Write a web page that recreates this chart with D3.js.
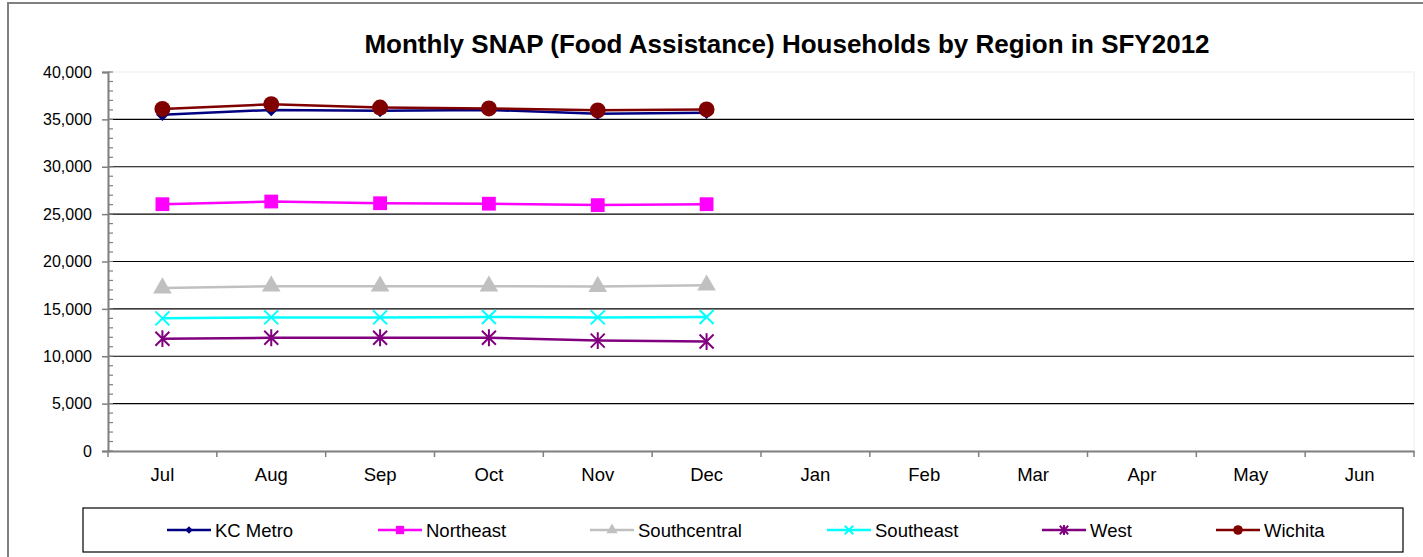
<!DOCTYPE html>
<html>
<head>
<meta charset="utf-8">
<script src="https://cdn.jsdelivr.net/npm/d3@7"></script>
<style>
  body { margin: 0; background: #fff; }
  text { font-family: "Liberation Sans", Arial, sans-serif; }
</style>
</head>
<body>
<svg id="chart"></svg>
<script>
const months = ['Jul', 'Aug', 'Sep', 'Oct', 'Nov', 'Dec', 'Jan', 'Feb', 'Mar', 'Apr', 'May', 'Jun'];
const regions = ['KC Metro', 'Northeast', 'Southcentral', 'Southeast', 'West', 'Wichita'];
const kcMetro = [35500, 36000, 35900, 36000, 35600, 35700];
const northeast = [26050, 26330, 26150, 26100, 25950, 26050];
const southcentral = [17200, 17400, 17400, 17400, 17350, 17500];
const southeast = [14000, 14100, 14100, 14150, 14100, 14150];
const west = [11850, 11950, 11950, 11950, 11650, 11550];
const wichita = [36100, 36600, 36250, 36150, 35950, 36050];
const yTicks = [0, 5000, 10000, 15000, 20000, 25000, 30000, 35000, 40000];

const series = [
  {name: regions[0], values: kcMetro, color: '#000080', symbol: 'diamond', size: 80},
  {name: regions[1], values: northeast, color: '#ff00ff', symbol: d3.symbolSquare, size: 190},
  {name: regions[2], values: southcentral, color: '#c0c0c0', symbol: d3.symbolTriangle, size: 150},
  {name: regions[3], values: southeast, color: '#00ffff', symbol: 'x', size: 7},
  {name: regions[4], values: west, color: '#800080', symbol: 'star', size: 7},
  {name: regions[5], values: wichita, color: '#800000', symbol: d3.symbolCircle, size: 200}
];

const W = 1423, H = 557;
const plot = {left: 108, top: 72, right: 1414, bottom: 451};
const font = '"Liberation Sans", Arial, sans-serif';

const svg = d3.select('#chart').attr('width', W).attr('height', H);

// chart frame
svg.append('rect')
  .attr('x', 8).attr('y', 3)
  .attr('width', W).attr('height', H)
  .attr('fill', 'none').attr('stroke', '#808080').attr('stroke-width', 2);

const x = d3.scaleBand().domain(months).range([plot.left, plot.right]);
const y = d3.scaleLinear().domain([0, 40000]).range([plot.bottom, plot.top]);

// plot border (light)
svg.append('rect')
  .attr('x', plot.left).attr('y', plot.top)
  .attr('width', plot.right - plot.left).attr('height', plot.bottom - plot.top)
  .attr('fill', 'none').attr('stroke', '#eeeeee');

// gridlines
svg.append('g').selectAll('line')
  .data(yTicks.filter(d => d > 0 && d < 40000))
  .join('line')
  .attr('x1', plot.left).attr('x2', plot.right)
  .attr('y1', d => y(d)).attr('y2', d => y(d))
  .attr('stroke', '#000').attr('stroke-width', 1.2);

// y axis
const yAxis = svg.append('g')
  .attr('transform', `translate(${plot.left},0)`)
  .call(d3.axisLeft(y).tickValues(yTicks).tickFormat(d3.format(',')).tickSize(6).tickPadding(10));
yAxis.select('.domain').attr('stroke', '#808080').attr('stroke-width', 2);
yAxis.selectAll('.tick line').attr('stroke', '#808080').attr('stroke-width', 1.5);
yAxis.selectAll('text').attr('font-size', 16).attr('fill', '#000').attr('font-family', font);

// minor ticks inside
svg.append('g').selectAll('line')
  .data(d3.range(0, 40001, 1000))
  .join('line')
  .attr('x1', plot.left).attr('x2', plot.left + 5)
  .attr('y1', d => y(d)).attr('y2', d => y(d))
  .attr('stroke', '#808080').attr('stroke-width', 1.2);

// x axis
const xAxis = svg.append('g')
  .attr('transform', `translate(0,${plot.bottom})`)
  .call(d3.axisBottom(x).tickSize(0).tickPadding(17));
xAxis.select('.domain').attr('stroke', '#808080').attr('stroke-width', 2);
xAxis.selectAll('text').attr('font-size', 18.5).attr('fill', '#000').attr('font-family', font);
svg.append('g').selectAll('line')
  .data(months.concat(['end']))
  .join('line')
  .attr('x1', (d, i) => plot.left + i * x.step())
  .attr('x2', (d, i) => plot.left + i * x.step())
  .attr('y1', plot.bottom).attr('y2', plot.bottom + 6)
  .attr('stroke', '#808080').attr('stroke-width', 1.5);

// title
svg.append('text')
  .attr('x', 787).attr('y', 53)
  .attr('text-anchor', 'middle')
  .attr('font-size', 26).attr('font-weight', 'bold')
  .text('Monthly SNAP (Food Assistance) Households by Region in SFY2012');

function drawMarker(g, s, cx, cy, scale) {
  const k = scale || 1;
  if (s.symbol === 'x' || s.symbol === 'star') {
    const r = s.size * k;
    const p = d3.path();
    p.moveTo(cx - r, cy - r); p.lineTo(cx + r, cy + r);
    p.moveTo(cx - r, cy + r); p.lineTo(cx + r, cy - r);
    if (s.symbol === 'star') { p.moveTo(cx, cy - r * 1.2); p.lineTo(cx, cy + r * 1.2); }
    g.append('path').attr('d', p.toString())
      .attr('stroke', s.color).attr('stroke-width', 2).attr('fill', 'none');
  } else if (s.symbol === 'diamond') {
    g.append('path')
      .attr('d', d3.symbol(d3.symbolSquare, s.size * k * k)())
      .attr('transform', `translate(${cx},${cy}) rotate(45)`)
      .attr('fill', s.color);
  } else {
    g.append('path')
      .attr('d', d3.symbol(s.symbol, s.size * k * k)())
      .attr('transform', `translate(${cx},${cy})`)
      .attr('fill', s.color);
  }
}

const line = d3.line()
  .x((d, i) => x(months[i]) + x.bandwidth() / 2)
  .y(d => y(d));

series.forEach(s => {
  const g = svg.append('g');
  g.append('path').datum(s.values)
    .attr('d', line)
    .attr('fill', 'none').attr('stroke', s.color).attr('stroke-width', 2.5);
  s.values.forEach((v, i) => {
    drawMarker(g, s, x(months[i]) + x.bandwidth() / 2, y(v));
  });
});

// legend
svg.append('rect')
  .attr('x', 83).attr('y', 508).attr('width', 1320).attr('height', 44)
  .attr('fill', '#fff').attr('stroke', '#000').attr('stroke-width', 1.2);

const legendX = [167, 378, 590, 827, 1042, 1216];
series.forEach((s, i) => {
  const g = svg.append('g');
  const lx = legendX[i], ly = 530;
  g.append('line').attr('x1', lx).attr('x2', lx + 44)
    .attr('y1', ly).attr('y2', ly)
    .attr('stroke', s.color).attr('stroke-width', 2.5);
  drawMarker(g, s, lx + 22, ly, 0.6);
  g.append('text').attr('x', lx + 48).attr('y', ly + 6.5)
    .attr('font-size', 18.5).text(s.name);
});
</script>
</body>
</html>
